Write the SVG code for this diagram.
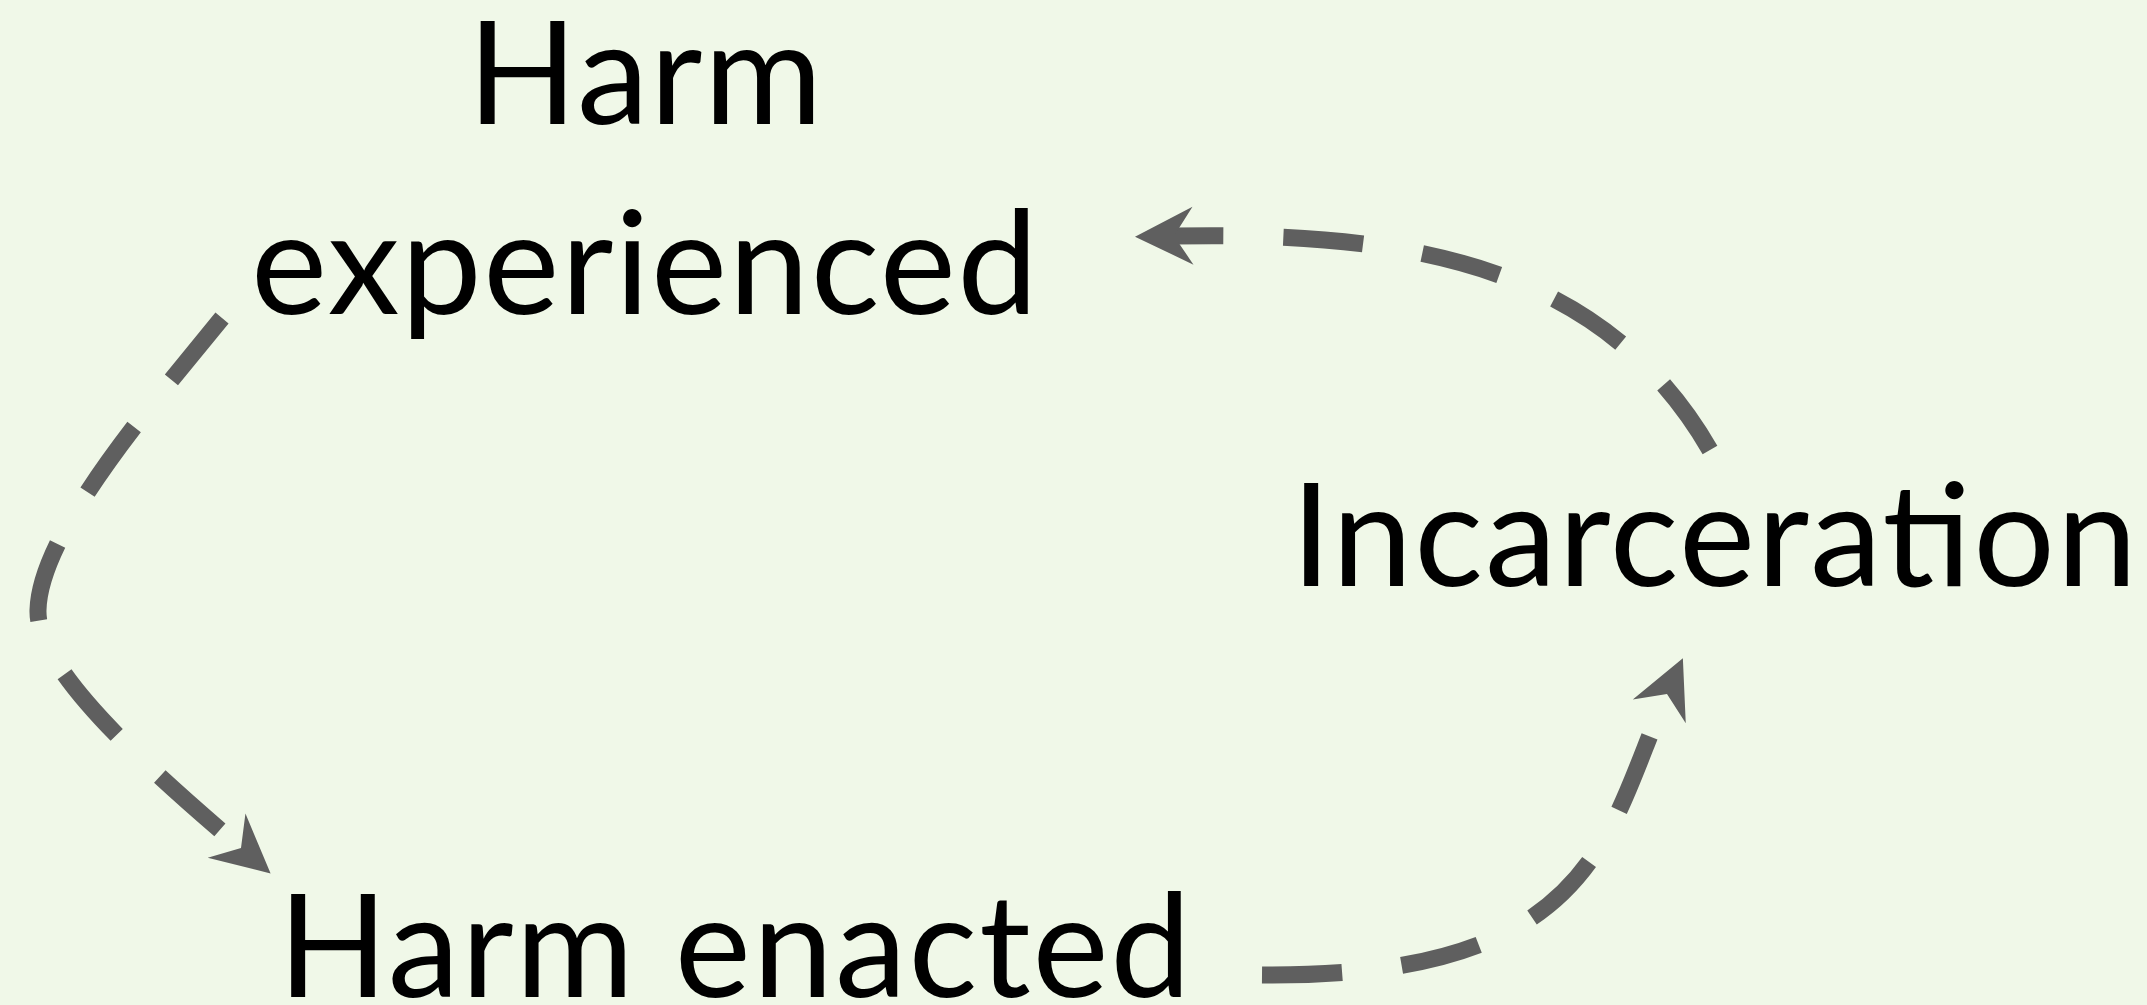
<svg xmlns="http://www.w3.org/2000/svg" width="2147" height="1005" viewBox="0 0 2147 1005">
  <style>
    .label { font-family: Lato, "Noto Sans", "DejaVu Sans", sans-serif; font-size: 144px; fill: #000000; text-anchor: middle; }
    .conn { fill: none; stroke: #5f5f5f; stroke-width: 17; stroke-dasharray: 80 60; stroke-linecap: butt; marker-end: url(#arrow); }
  </style>
  <defs>
    <marker id="arrow" markerUnits="userSpaceOnUse" markerWidth="80" markerHeight="80" viewBox="-40 -40 80 80" refX="0" refY="0" orient="auto" overflow="visible">
      <path d="M 39 0 L -19 -29 L 0 0 L -19 29 Z" fill="#5f5f5f"/>
    </marker>
  </defs>
  <rect x="0" y="0" width="2147" height="1005" fill="#f0f8e8"/>

  <g id="connectors">
    <path id="incarceration-to-experienced" class="conn" d="M 1710 450 C 1600 260, 1400 232, 1174 236"/>
    <path id="experienced-to-enacted" class="conn" d="M 222 318 C 160 395, 40 530, 38 610 C 36 670, 150 770, 241 848"/>
    <path id="enacted-to-incarceration" class="conn" d="M 1262 975 C 1600 978, 1606 831, 1667 694"/>
  </g>

  <g id="node-harm-experienced">
    <text class="label" x="645" y="124" textLength="355">Harm</text>
    <text class="label" x="644.5" y="314" textLength="787">experienced</text>
  </g>
  <g id="node-incarceration">
    <text class="label" x="1714" y="586" textLength="846">Incarceration</text>
  </g>
  <g id="node-harm-enacted">
    <text class="label" x="734.5" y="997" textLength="913">Harm enacted</text>
  </g>
</svg>
